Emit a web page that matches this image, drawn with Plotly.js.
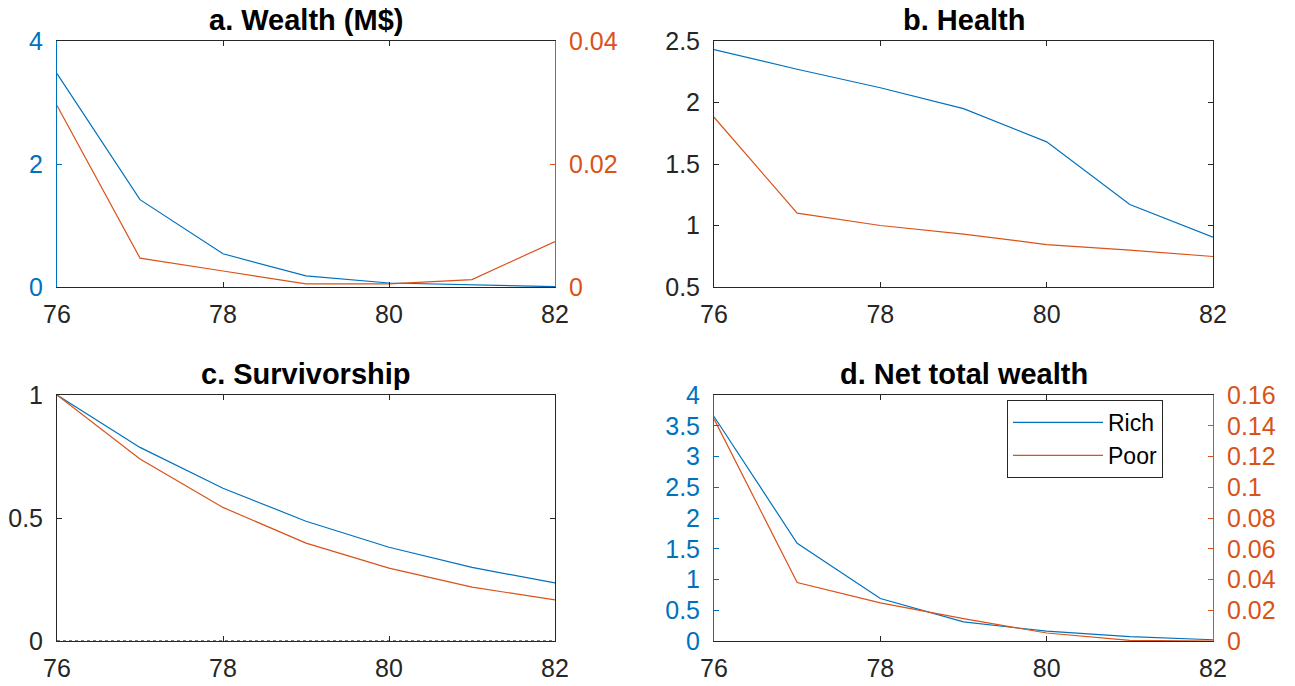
<!DOCTYPE html>
<html>
<head>
<meta charset="utf-8">
<script src="https://cdn.plot.ly/plotly-3.0.1.min.js"></script>
<style>
html,body{margin:0;padding:0;background:#fff;}
#chart{width:1295px;height:686px;}
</style>
</head>
<body>
<div id="chart"></div>
<script>
// ---- data ----
const ages = [76, 77, 78, 79, 80, 81, 82];
const wealthRich = [3.47, 1.42, 0.54, 0.18, 0.065, 0.03, 0.005];
const wealthPoor = [0.0295, 0.0047, 0.0026, 0.0005, 0.0005, 0.0012, 0.0074];
const healthRich = [2.43, 2.27, 2.12, 1.95, 1.68, 1.17, 0.905];
const healthPoor = [1.88, 1.10, 1.00, 0.93, 0.845, 0.80, 0.748];
const survRich = [1.0, 0.787, 0.621, 0.487, 0.381, 0.299, 0.236];
const survPoor = [1.0, 0.74, 0.543, 0.398, 0.296, 0.219, 0.167];
const netRich = [3.65, 1.59, 0.69, 0.31, 0.16, 0.07, 0.02];
const netPoor = [0.1445, 0.038, 0.0248, 0.0145, 0.0052, 0.0004, 0.0];
const seriesNames = ["Rich", "Poor"];
const titles = ["a. Wealth (M$)", "b. Health", "c. Survivorship", "d. Net total wealth"];
const xTicks = [76, 78, 80, 82];

// ---- styling ----
const BLUE = "#0072BD", ORANGE = "#D95319", AX = "#262626";
const FONT = "Liberation Sans, Arial, Helvetica, sans-serif";
const W = 1295, H = 686;
const colA = [57 / W, 555 / W], colB = [714 / W, 1213 / W];
const rowTop = [1 - 287 / H, 1 - 41 / H], rowBot = [1 - 641 / H, 1 - 395 / H];

function line(x, y, color, xa, ya, name, show) {
  return {x: x, y: y, type: "scatter", mode: "lines", name: name,
    line: {color: color, width: 1.2}, xaxis: xa, yaxis: ya,
    showlegend: !!show, hoverinfo: "skip"};
}

const traces = [
  line(ages, wealthRich, BLUE, "x", "y"),
  line(ages, wealthPoor, ORANGE, "x", "y2"),
  line(ages, healthRich, BLUE, "x2", "y3"),
  line(ages, healthPoor, ORANGE, "x2", "y3"),
  line(ages, survRich, BLUE, "x3", "y4"),
  line(ages, survPoor, ORANGE, "x3", "y4"),
  line(ages, netRich, BLUE, "x4", "y5", seriesNames[0], true),
  line(ages, netPoor, ORANGE, "x4", "y6", seriesNames[1], true)
];

const tickFont = {family: FONT, size: 25, color: AX};
function xax(domain, anchor) {
  return {domain: domain, anchor: anchor, range: [76, 82], tickvals: xTicks,
    ticktext: xTicks.map(String), ticks: "inside", ticklen: 5, tickcolor: AX,
    showline: true, linecolor: AX, linewidth: 1, mirror: "ticks",
    showgrid: false, zeroline: false, tickfont: tickFont, ticklabelstandoff: 5};
}
function yax(domain, anchor, range, dtick, color, opts) {
  return Object.assign({domain: domain, anchor: anchor, range: range, dtick: dtick,
    ticks: "inside", ticklen: 5, tickcolor: color, showline: true, linecolor: color,
    linewidth: 1, mirror: false, showgrid: false, zeroline: false,
    tickfont: {family: FONT, size: 25, color: color}, ticklabelstandoff: 8}, opts || {});
}

const ann = [];
const centers = [[colA, rowTop], [colB, rowTop], [colA, rowBot], [colB, rowBot]];
titles.forEach((t, i) => {
  const [c, r] = centers[i];
  ann.push({text: "<b>" + t + "</b>", xref: "paper", yref: "paper",
    x: (c[0] + c[1]) / 2, y: r[1] + 21 / H, xanchor: "center", yanchor: "middle",
    showarrow: false, font: {family: FONT, size: 29, color: "#000"}});
});

const layout = {
  width: W, height: H, margin: {l: 0, r: 0, t: 0, b: 0},
  paper_bgcolor: "#fff", plot_bgcolor: "#fff",
  font: {family: FONT, color: AX},
  xaxis: xax(colA, "y"),
  yaxis: yax(rowTop, "x", [0, 4], 2, BLUE),
  yaxis2: yax(rowTop, "x", [0, 0.04], 0.02, ORANGE, {overlaying: "y", side: "right", tickformat: ".2~f"}),
  xaxis2: xax(colB, "y3"),
  yaxis3: yax(rowTop, "x2", [0.5, 2.5], 0.5, AX, {mirror: "ticks"}),
  xaxis3: xax(colA, "y4"),
  yaxis4: yax(rowBot, "x3", [0, 1], 0.5, AX, {mirror: "ticks"}),
  xaxis4: xax(colB, "y5"),
  yaxis5: yax(rowBot, "x4", [0, 4], 0.5, BLUE),
  yaxis6: yax(rowBot, "x4", [0, 0.16], 0.02, ORANGE, {overlaying: "y5", side: "right", tickformat: ".2~f"}),
  annotations: ann,
  shapes: [{type: "line", xref: "x3 domain", yref: "y4", x0: 0, x1: 1, y0: 0, y1: 0,
    line: {color: "#000", width: 1, dash: "dot"}}],
  legend: {x: 1007 / W, y: 1 - 400 / H, xanchor: "left", yanchor: "top",
    bgcolor: "#fff", bordercolor: AX, borderwidth: 1,
    font: {family: FONT, size: 23, color: "#000"}, itemwidth: 90, tracegroupgap: 0}
};

Plotly.newPlot("chart", traces, layout, {staticPlot: true, displayModeBar: false});
</script>
</body>
</html>
